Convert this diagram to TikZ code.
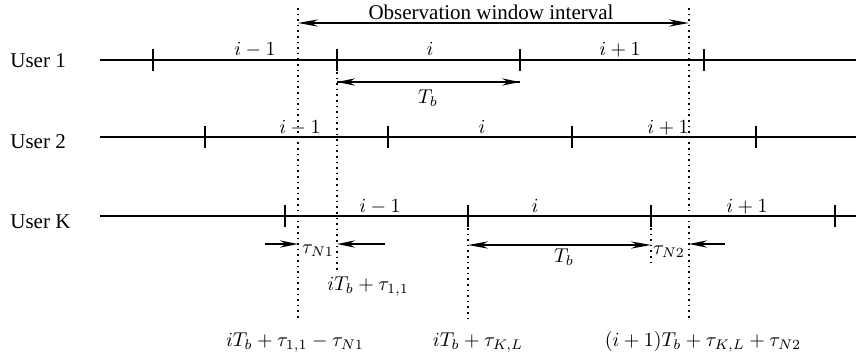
\documentclass[tikz,border=0pt]{standalone}
\usepackage{fontspec}
\setmainfont{Liberation Serif}
\usetikzlibrary{arrows.meta}
\tikzset{
    timeline/.style={line width=1.2pt},
    tickmark/.style={line width=1.2pt},
    guide/.style={dotted, line width=0.8pt},
    span/.style={
        {Stealth[length=10pt,width=3.6pt]}-{Stealth[length=10pt,width=3.6pt]},
        line width=0.9pt
    },
    gap/.style={-{Stealth[length=9pt,width=3.6pt]}, line width=0.9pt},
    lbl/.style={anchor=base, inner sep=0pt},
    rowname/.style={anchor=base west, inner sep=0pt, font=\fontsize{10.5}{12}\selectfont}
}

\begin{document}
\begin{tikzpicture}[x=0.5pt, y=-0.5pt]
        \useasboundingbox (0,0) rectangle (856,361);

        % user rows
        \node[rowname] (user1) at (10,67) {User 1};
        \node[rowname] (user2) at (10,148) {User 2};
        \node[rowname] (userk) at (10,228) {User K};

        \coordinate (a1) at (100,60);  \coordinate (b1) at (856,60);
        \coordinate (a2) at (100,137); \coordinate (b2) at (856,137);
        \coordinate (ak) at (100,216); \coordinate (bk) at (856,216);
        \draw[timeline] (a1) -- (b1);
        \draw[timeline] (a2) -- (b2);
        \draw[timeline] (ak) -- (bk);

        % bit boundaries
        \foreach \x in {153,337,520,704}
            \draw[tickmark] (\x,49) -- (\x,71);
        \foreach \x in {205,388,572,756}
            \draw[tickmark] (\x,126) -- (\x,148);
        \foreach \x in {285,468,651,835}
            \draw[tickmark] (\x,205) -- (\x,227);

        % bit indices
        \node[lbl] (u1p) at (255,55) {$i-1$};
        \node[lbl] (u1c) at (430,55) {$i$};
        \node[lbl] (u1n) at (620,55) {$i+1$};
        \node[lbl] (u2p) at (300,133) {$i-1$};
        \node[lbl] (u2c) at (482,133) {$i$};
        \node[lbl] (u2n) at (668,133) {$i+1$};
        \node[lbl] (ukp) at (380,212) {$i-1$};
        \node[lbl] (ukc) at (535,212) {$i$};
        \node[lbl] (ukn) at (747,212) {$i+1$};

        % dotted guides
        \coordinate (winL) at (298,23);
        \coordinate (winR) at (689,23);
        \draw[guide] (298,8) -- (298,318);
        \draw[guide] (337,72) -- (337,270);
        \draw[guide] (468,228) -- (468,318);
        \draw[guide] (651,228) -- (651,262);
        \draw[guide] (689,8) -- (689,318);

        % observation window
        \draw[span] (winL) -- (winR);
        \node[rowname, anchor=base] (win) at (491,19) {Observation window interval};

        % bit duration, user 1
        \coordinate (tb1L) at (337,82);
        \coordinate (tb1R) at (520,82);
        \draw[gap] (tb1L) -- (tb1R);
        \draw[gap] (tb1R) -- (tb1L);
        \node[lbl] (tb1) at (428,103) {$T_b$};

        % offsets, user K
        \coordinate (n1a) at (265,244);
        \coordinate (n1b) at (385,244);
        \draw[gap] (n1a) -- (298,244);
        \draw[gap] (n1b) -- (337,244);
        \node[lbl] (tauN1) at (318,253) {$\tau_{N1}$};

        \coordinate (tbkL) at (468,245);
        \coordinate (tbkR) at (651,245);
        \draw[span] (tbkL) -- (tbkR);
        \node[lbl] (tbk) at (564,262) {$T_b$};

        \coordinate (n2a) at (725,244);
        \draw[gap] (n2a) -- (689,244);
        \node[lbl] (tauN2) at (669,254) {$\tau_{N2}$};

        % instants
        \node[lbl] (t11) at (368,290) {$iT_b+\tau_{1,1}$};
        \node[lbl] (tstart) at (295,346) {$iT_b+\tau_{1,1}-\tau_{N1}$};
        \node[lbl] (tkl) at (478,346) {$iT_b+\tau_{K,L}$};
        \node[lbl] (tend) at (703,346) {$(i+1)T_b+\tau_{K,L}+\tau_{N2}$};
    \end{tikzpicture}
\end{document}
